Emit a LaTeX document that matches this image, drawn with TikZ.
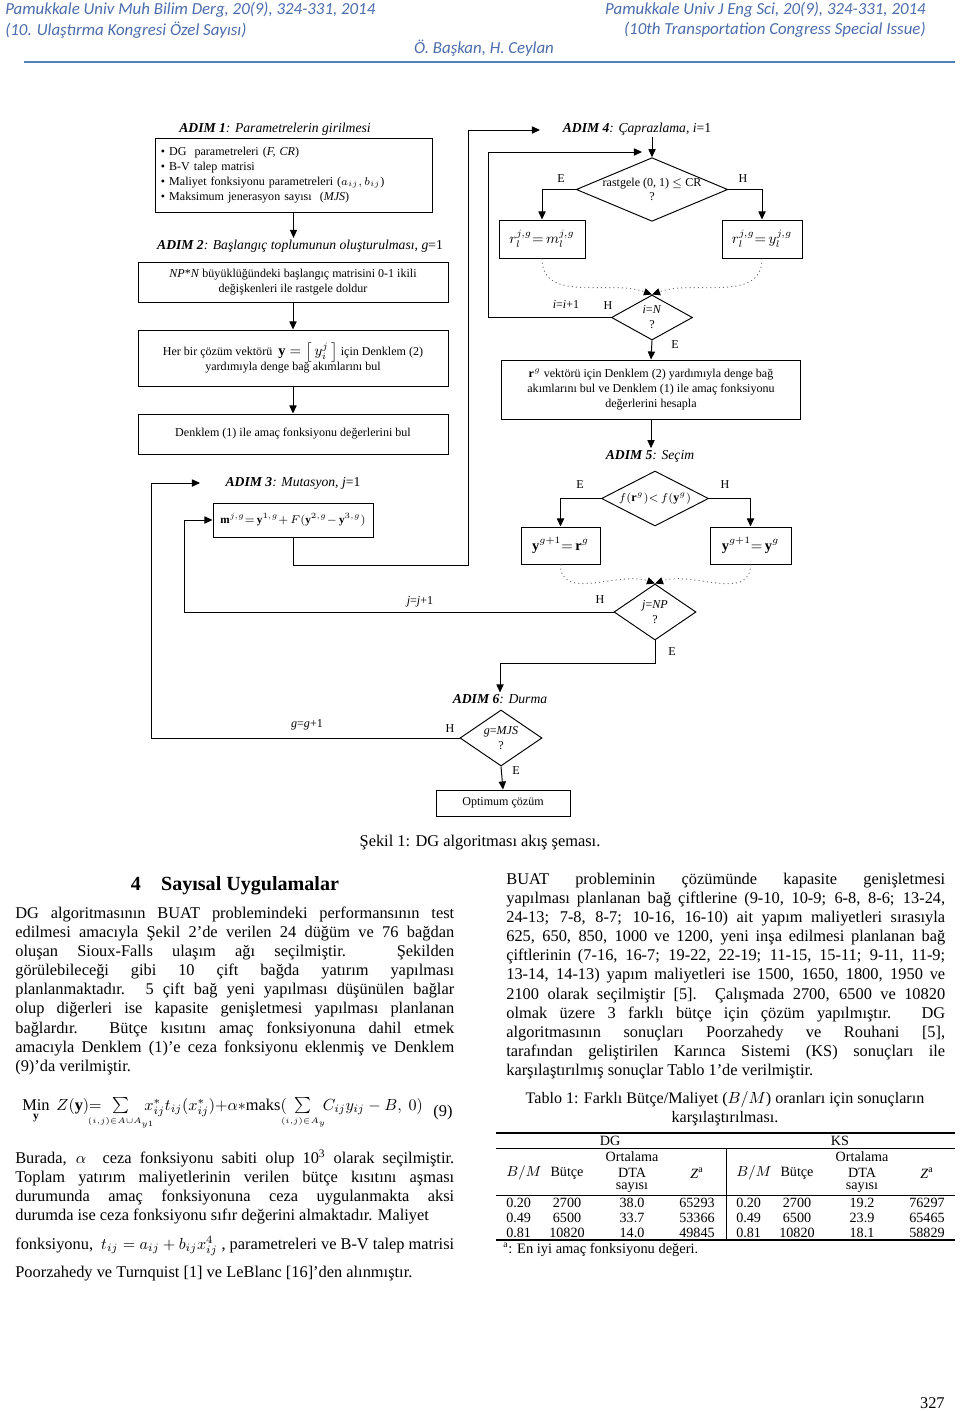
\documentclass[tikz,border=0pt]{standalone}
\usepackage{fontspec}
\setmainfont{Liberation Serif}
\newfontfamily\hdrfam{Carlito}
\usetikzlibrary{shapes.geometric,arrows.meta}

\definecolor{hdrblue}{RGB}{75,108,172}
\definecolor{rulblue}{RGB}{79,129,189}

\newcommand\pxu{0.021875cm}
\newcommand\flowfont{\fontsize{7.5}{9.3}\selectfont}
\newcommand\mathboxfont{\fontsize{9}{11}\selectfont}
\newcommand\adimfont{\fontsize{8.5}{10}\selectfont\itshape}
\newcommand\bodyfont{\fontsize{10.2}{11.95}\selectfont}
\newcommand\tabfont{\fontsize{8.8}{9.3}\selectfont}
\newcommand\hdrfont{\hdrfam\itshape\fontsize{10.5}{12}\selectfont}

\tolerance=10000 \hbadness=10000 \hyphenpenalty=10000

\tikzset{
  box/.style={draw, line width=0.6pt, inner sep=0pt, align=center, font=\flowfont},
  dec/.style={draw, diamond, line width=0.6pt, inner sep=0pt, align=center, font=\flowfont},
  adim/.style={font=\adimfont, inner sep=1pt},
  yn/.style={font=\flowfont, inner sep=0pt},
  arr/.style={line width=0.6pt, -{Triangle[length=5pt,width=4.5pt]}},
  dots/.style={dotted, line width=0.6pt, black!60, -{Triangle[length=5pt,width=4.5pt,color=black]}},
  para/.style={anchor=base west, inner sep=0pt, text width=9.603cm, align=justify, font=\bodyfont},
  tcell/.style={inner sep=0pt, font=\tabfont},
  hdr/.style={font=\hdrfont, text=hdrblue, inner sep=0pt}
}

\begin{document}
\begin{tikzpicture}[x=0.021875cm, y=-0.021875cm]
  \useasboundingbox (0,0) rectangle (960,1411);

  % header
  \node[hdr, anchor=west] (hl1) at (5,10) {Pamukkale Univ Muh Bilim Derg, 20(9), 324-331, 2014};
  \node[hdr, anchor=west] (hl2) at (5,30) {(10. Ulaştırma Kongresi Özel Sayısı)};
  \node[hdr, anchor=east] (hr1) at (926,10) {Pamukkale Univ J Eng Sci, 20(9), 324-331, 2014};
  \node[hdr, anchor=east] (hr2) at (926,30) {(10th Transportation Congress Special Issue)};
  \node[hdr] (hau) at (484,48) {Ö. Başkan, H. Ceylan};
  \draw[rulblue, line width=1.6pt] (24,62) -- (955,62);

  % flowchart, left part
  \node[adim] (l1) at (275,129) {\textbf{ADIM 1}: Parametrelerin girilmesi};
  \node[box, text width=5.8cm, inner xsep=0.13cm, align=left, minimum height=74*\pxu] (b1) at (293.5,175)
    {\textbullet\ DG\ \ parametreleri (\textit{F, CR})\\
     \textbullet\ B-V talep matrisi\\
     \textbullet\ Maliyet fonksiyonu parametreleri ($a_{ij}, b_{ij}$)\\
     \textbullet\ Maksimum jenerasyon sayısı\ \ (\textit{MJS})};
  \node[adim] (l2) at (300,246) {\textbf{ADIM 2}: Başlangıç toplumunun oluşturulması, g\textup{=1}};
  \node[box, minimum width=310*\pxu, minimum height=40*\pxu] (b2) at (293,282)
    {\textit{NP}*\textit{N} büyüklüğündeki başlangıç matrisini 0-1 ikili\\değişkenleri ile rastgele doldur};
  \node[box, minimum width=310*\pxu, minimum height=56*\pxu] (b3) at (293,358)
    {Her bir çözüm vektörü\ \ {\mathboxfont$\mathbf{y}=\left[\,y_i^j\,\right]$} için Denklem (2)\\yardımıyla denge bağ akımlarını bul};
  \node[box, minimum width=310*\pxu, minimum height=40*\pxu] (b4) at (293,434)
    {Denklem (1) ile amaç fonksiyonu değerlerini bul};
  \node[adim] (l3) at (293,483) {\textbf{ADIM 3}: Mutasyon, j\textup{=1}};
  \node[box, minimum width=160*\pxu, minimum height=34*\pxu, font=\fontsize{7}{9}\selectfont] (mut) at (293,520)
    {$\mathbf{m}^{j,g}{=}\,\mathbf{y}^{1,g}{+}\,F(\mathbf{y}^{2,g}{-}\,\mathbf{y}^{3,g})$};

  % flowchart, right part
  \node[adim] (l4) at (637,129) {\textbf{ADIM 4}: Çaprazlama, i\textup{=1}};
  \node[dec, aspect=2.38, minimum width=150*\pxu, minimum height=63*\pxu, font=\fontsize{7.5}{8.5}\selectfont] (dcr) at (652,189.5) {rastgele (0, 1) $\le$ CR\\?};
  \node[box, minimum width=86*\pxu, minimum height=38*\pxu, font=\mathboxfont] (rm) at (542,239) {$r_l^{j,g}{=}\,m_l^{j,g}$};
  \node[box, minimum width=80*\pxu, minimum height=38*\pxu, font=\mathboxfont] (ry) at (762,239) {$r_l^{j,g}{=}\,y_l^{j,g}$};
  \node[dec, aspect=1.8, minimum width=81*\pxu, minimum height=45*\pxu] (dIN) at (652,317.5) {\textit{i}=\textit{N}\\?};
  \node[box, minimum width=299*\pxu, minimum height=59*\pxu] (rg) at (651,389.5)
    {$\mathbf{r}^{g}$ vektörü için Denklem (2) yardımıyla denge bağ\\akımlarını bul ve Denklem (1) ile amaç fonksiyonu\\değerlerini hesapla};
  \node[adim] (l5) at (650,456) {\textbf{ADIM 5}: Seçim};
  \node[dec, aspect=1.95, minimum width=107*\pxu, minimum height=55*\pxu] (dsel) at (655,498.5) {$f(\mathbf{r}^{g}){<}\,f(\mathbf{y}^{g})$};
  \node[box, minimum width=79*\pxu, minimum height=37*\pxu, font=\mathboxfont] (yr) at (560.5,545.5) {$\mathbf{y}^{g+1}{=}\,\mathbf{r}^{g}$};
  \node[box, minimum width=81*\pxu, minimum height=37*\pxu, font=\mathboxfont] (yy) at (750.5,545.5) {$\mathbf{y}^{g+1}{=}\,\mathbf{y}^{g}$};
  \node[dec, aspect=1.46, minimum width=82*\pxu, minimum height=56*\pxu] (djnp) at (655,612) {\textit{j}=\textit{NP}\\?};
  \node[adim] (l6) at (500,699) {\textbf{ADIM 6}: Durma};
  \node[dec, aspect=1.46, minimum width=82*\pxu, minimum height=56*\pxu] (dstop) at (501,738) {\textit{g}=\textit{MJS}\\?};
  \node[box, minimum width=134*\pxu, minimum height=26*\pxu] (opt) at (503,803) {Optimum çözüm};

  % yes/no and counters
  \node[yn] (e1) at (561,179) {E};
  \node[yn] (h1) at (743,179) {H};
  \node[yn] (h2) at (608,306) {H};
  \node[yn] (e2) at (675,345) {E};
  \node[yn] (inc) at (566,305) {\textit{i}=\textit{i}+1};
  \node[yn] (e3) at (580,485) {E};
  \node[yn] (h3) at (725,485) {H};
  \node[yn] (h4) at (600,600) {H};
  \node[yn] (e4) at (672,652) {E};
  \node[yn] (jnc) at (420,602) {\textit{j}=\textit{j}+1};
  \node[yn] (h5) at (450,729) {H};
  \node[yn] (e5) at (516,771) {E};
  \node[yn] (gnc) at (307,725) {\textit{g}=\textit{g}+1};

  \coordinate (a3in) at (200,483);
  \coordinate (gx) at (151,0);
  \coordinate (jx) at (184,0);
  \coordinate (mx) at (468,565);
  \coordinate (a4in) at (540,130);
  \coordinate (ix) at (488,0);
  \coordinate (a4d) at (642,152);
  \coordinate (jy) at (0,663);

  \draw[arr] (b1.south) -- (b1.south |- l2.north);
  \draw[arr] (b2.south) -- (b3.north);
  \draw[arr] (b3.south) -- (b4.north);
  \draw[arr] (dstop.west) -- (dstop.west -| gx) |- (a3in);
  \draw[arr] (djnp.west) -- (djnp.west -| jx) |- (mut.west);
  \draw[arr] (mut.south) |- (mx) |- (a4in);
  \draw[arr] (dcr.north |- l4.south) -- (dcr.north);
  \draw[arr] (dcr.west) -| (rm.north);
  \draw[arr] (dcr.east) -| (ry.north);
  \draw[dots] (rm.south) to[out=-90, in=160] (dIN.north);
  \draw[dots] (ry.south) to[out=-90, in=20] (dIN.north);
  \draw[arr] (dIN.west) -- (dIN.west -| ix) |- (a4d);
  \draw[arr] (dIN.south) -- (rg.north);
  \draw[arr] (rg.south) -- (rg.south |- l5.north);
  \draw[arr] (dsel.west) -| (yr.north);
  \draw[arr] (dsel.east) -| (yy.north);
  \draw[dots] (yr.south) to[out=-90, in=160] (djnp.north);
  \draw[dots] (yy.south) to[out=-90, in=20] (djnp.north);
  \draw[arr] (djnp.south) -- (djnp.south |- jy) -| (l6.north);
  \draw[arr] (dstop.south) -- (opt.north);

  \node[font=\bodyfont] (cap1) at (480,843) {Şekil 1: DG algoritması akış şeması.};

  % left column
  \node[font=\fontsize{12.5}{14}\selectfont\bfseries] (sec) at (235,886) {4\quad Sayısal Uygulamalar};
  \node[para] (p1) at (15,918) {DG algoritmasının BUAT problemindeki performansının test\linebreak
    edilmesi amacıyla Şekil 2'de verilen 24 düğüm ve 76 bağdan\linebreak
    oluşan Sioux-Falls ulaşım ağı seçilmiştir. Şekilden\linebreak
    görülebileceği gibi 10 çift bağda yatırım yapılması\linebreak
    planlanmaktadır. 5 çift bağ yeni yapılması düşünülen bağlar\linebreak
    olup diğerleri ise kapasite genişletmesi yapılması planlanan\linebreak
    bağlardır. Bütçe kısıtını amaç fonksiyonuna dahil etmek\linebreak
    amacıyla Denklem (1)'e ceza fonksiyonu eklenmiş ve Denklem\linebreak
    (9)'da verilmiştir.};
  \node[anchor=base west, inner sep=0pt, font=\bodyfont] (eq9) at (22,1110)
    {$\mathop{\mbox{Min}}\limits_{\mathbf{y}}\ Z(\mathbf{y}){=}\ \ \sum\limits_{\makebox[0pt]{$\scriptscriptstyle (i,j)\in A\cup A_{y1}$}}\ \ \ x^{*}_{ij}t_{ij}(x^{*}_{ij}){+}\alpha{*}\mbox{maks}(\ \ \sum\limits_{\makebox[0pt]{$\scriptscriptstyle (i,j)\in A_{y}$}}\ \ C_{ij}y_{ij}-B,\ 0)$};
  \node[font=\bodyfont] (eqn) at (443,1113) {(9)};
  \node[para] (p2) at (15,1163) {Burada, $\alpha$\ \ ceza fonksiyonu sabiti olup 10\textsuperscript{3} olarak seçilmiştir.\linebreak
    Toplam yatırım maliyetlerinin verilen bütçe kısıtını aşması\linebreak
    durumunda amaç fonksiyonuna ceza uygulanmakta aksi\linebreak
    durumda ise ceza fonksiyonu sıfır değerini almaktadır. Maliyet};
  \node[para] (p3) at (15,1249) {\parfillskip=0pt fonksiyonu,\ \ $t_{ij}=a_{ij}+b_{ij}x_{ij}^{4}$ , parametreleri ve B-V talep matrisi};
  \node[para] (p4) at (15,1277) {Poorzahedy ve Turnquist [1] ve LeBlanc [16]'den alınmıştır.};

  % right column
  \node[para] (p5) at (506,884) {BUAT probleminin çözümünde kapasite genişletmesi\linebreak
    yapılması planlanan bağ çiftlerine (9-10, 10-9; 6-8, 8-6; 13-24,\linebreak
    24-13; 7-8, 8-7; 10-16, 16-10) ait yapım maliyetleri sırasıyla\linebreak
    625, 650, 850, 1000 ve 1200, yeni inşa edilmesi planlanan bağ\linebreak
    çiftlerinin (7-16, 16-7; 19-22, 22-19; 11-15, 15-11; 9-11, 11-9;\linebreak
    13-14, 14-13) yapım maliyetleri ise 1500, 1650, 1800, 1950 ve\linebreak
    2100 olarak seçilmiştir [5]. Çalışmada 2700, 6500 ve 10820\linebreak
    olmak üzere 3 farklı bütçe için çözüm yapılmıştır. DG\linebreak
    algoritmasının sonuçları Poorzahedy ve Rouhani [5],\linebreak
    tarafından geliştirilen Karınca Sistemi (KS) sonuçları ile\linebreak
    karşılaştırılmış sonuçlar Tablo 1'de verilmiştir.};
  \node[font=\fontsize{10}{11.8}\selectfont, align=center, anchor=base, inner sep=0pt] (tcap) at (725,1122)
    {Tablo 1: Farklı Bütçe/Maliyet ($B/M$) oranları için sonuçların\\karşılaştırılması.};

  % table
  \draw[line width=1pt] (496,1133) -- (955,1133);
  \draw[line width=0.6pt] (496,1148) -- (955,1148);
  \draw[line width=0.6pt] (496,1195) -- (955,1195);
  \draw[line width=1pt] (496,1240) -- (955,1240);
  \draw[line width=0.6pt] (726,1148) -- (726,1240);
  \node[tcell] (tdg) at (610,1141) {DG};
  \node[tcell] (tks) at (840,1141) {KS};
  \foreach \s/\dx in {d/0,k/230} {
    \node[tcell] (ort\s) at (632+\dx,1157) {Ortalama};
    \node[tcell, anchor=west] (hbm\s) at (506+\dx,1173) {$B/M$};
    \node[tcell] (hbu\s) at (567+\dx,1173) {Bütçe};
    \node[tcell] (hdt\s) at (632+\dx,1173) {DTA};
    \node[tcell] (hz\s) at (697+\dx,1173) {\textit{Z}\textsuperscript{a}};
    \node[tcell] (say\s) at (632+\dx,1188) {sayısı};
  }
  \foreach \n/\yy/\bm/\bu/\dt/\za/\dtk/\zk in {1/1203/0.20/2700/38.0/65293/19.2/76297,
      2/1218/0.49/6500/33.7/53366/23.9/65465, 3/1233/0.81/10820/14.0/49845/18.1/58829} {
    \node[tcell, anchor=west] (bm\n) at (506,\yy) {\bm};
    \node[tcell] (bu\n) at (567,\yy) {\bu};
    \node[tcell] (dt\n) at (632,\yy) {\dt};
    \node[tcell, anchor=east] (z\n) at (715,\yy) {\za};
    \node[tcell, anchor=west] (kbm\n) at (736,\yy) {\bm};
    \node[tcell] (kbu\n) at (797,\yy) {\bu};
    \node[tcell] (kdt\n) at (862,\yy) {\dtk};
    \node[tcell, anchor=east] (kz\n) at (945,\yy) {\zk};
  }
  \node[anchor=west, inner sep=0pt, font=\fontsize{9}{10}\selectfont] (tfn) at (503,1250) {\textsuperscript{a}: En iyi amaç fonksiyonu değeri.};

  \node[anchor=base east, inner sep=0pt, font=\bodyfont] (pg) at (945,1408) {327};
\end{tikzpicture}
\end{document}
